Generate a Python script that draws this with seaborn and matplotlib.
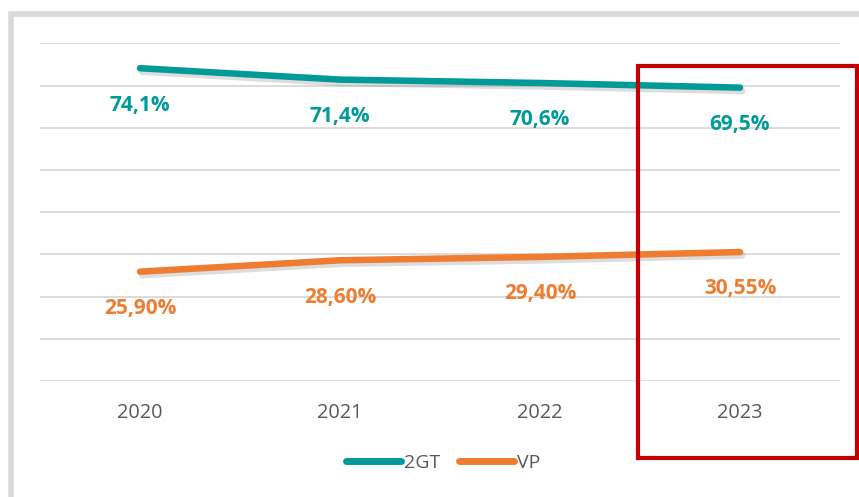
import matplotlib
matplotlib.use("Agg")
import matplotlib.pyplot as plt
import matplotlib.patheffects as pe
from matplotlib.patches import Rectangle
from matplotlib.lines import Line2D
import seaborn as sns
import pandas as pd

years = ["2020", "2021", "2022", "2023"]
gt_values = [74.1, 71.4, 70.6, 69.5]
vp_values = [25.90, 28.60, 29.40, 30.55]
gt_labels = ["74,1%", "71,4%", "70,6%", "69,5%"]
vp_labels = ["25,90%", "28,60%", "29,40%", "30,55%"]
series_names = ["2GT", "VP"]
colors = {"2GT": "#009B98", "VP": "#EE7D31"}

sns.set_theme(style="white")
plt.rcParams["font.family"] = ["Open Sans", "DejaVu Sans"]

df = pd.DataFrame({
    "year": years * 2,
    "value": gt_values + vp_values,
    "series": [series_names[0]] * 4 + [series_names[1]] * 4,
})
df["x"] = df.groupby("series").cumcount()

W, H = 859, 497
fig = plt.figure(figsize=(W / 100, H / 100), dpi=100)
ax = fig.add_axes([40 / W, (H - 381) / H, 800 / W, (381 - 43.3) / H])

shadow = [pe.SimpleLineShadow(offset=(1.5, -2.5), shadow_color="#666666", alpha=0.22),
          pe.Normal()]
sns.lineplot(data=df, x="x", y="value", hue="series", palette=colors,
             linewidth=4.7, ax=ax, legend=False, solid_capstyle="round")
for ln in ax.get_lines():
    ln.set_path_effects(shadow)

ax.set_xlim(-0.5, 3.5)
ax.set_ylim(0, 80)
ax.set_yticks(range(0, 81, 10))
ax.yaxis.grid(True, color="#D9D9D9", linewidth=1.3)
ax.set_axisbelow(True)
ax.set_yticklabels([])
ax.tick_params(axis="y", length=0)
ax.set_xticks(range(len(years)))
ax.set_xticklabels(years, fontsize=14.3, color="#595959")
ax.tick_params(axis="x", length=0, pad=16)
ax.set_xlabel("")
ax.set_ylabel("")
for s in ax.spines.values():
    s.set_visible(False)

for i, (v, lab) in enumerate(zip(gt_values, gt_labels)):
    ax.annotate(lab, (i, v), xytext=(0, -26.5), textcoords="offset points",
                ha="center", va="center", fontsize=15, fontweight="bold",
                color=colors["2GT"])
for i, (v, lab) in enumerate(zip(vp_values, vp_labels)):
    ax.annotate(lab, (i, v), xytext=(0, -26.5), textcoords="offset points",
                ha="center", va="center", fontsize=15, fontweight="bold",
                color=colors["VP"])

handles = [Line2D([0], [0], color=colors[n], linewidth=5, solid_capstyle="round")
           for n in series_names]
fig.legend(handles, series_names, loc="center", bbox_to_anchor=(443 / W, 1 - 463 / H),
           ncol=2, frameon=False, fontsize=14, handlelength=2.8, handletextpad=0.15,
           columnspacing=1.0, labelcolor="#595959")

# outer gray frame
fig.patches.append(Rectangle((11 / W, -0.1), 1.2, 1.1 - 13.5 / H, transform=fig.transFigure,
                             fill=False, edgecolor="#D9D9D9", linewidth=4.0, zorder=0))
# red highlight box
fig.patches.append(Rectangle((638 / W, 1 - 458 / H), (857 - 638) / W, (458 - 66) / H,
                             transform=fig.transFigure, fill=False, edgecolor="#C00000",
                             linewidth=3, zorder=5))

fig.savefig("out.png", dpi=100)
